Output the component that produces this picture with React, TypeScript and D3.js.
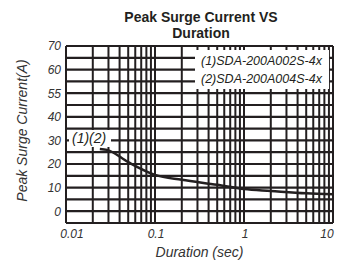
import React, { useRef, useEffect } from 'react';
import * as d3 from 'd3';

// curve (both parts share one curve)
const durations = [0.024, 0.029, 0.05, 0.1, 0.2, 0.5, 1, 2, 5, 10];
const currents = [26.4, 26.0, 20.8, 15.4, 13.3, 11.2, 9.4, 8.6, 7.6, 7.2];

const yTickValues = [0, 10, 20, 30, 40, 50, 60, 70];
const yTickLabels = ['0', '10', '20', '30', '40', '55', '60', '70'];
const xTickValues = [0.01, 0.1, 1, 10];
const xTickLabels = ['0.01', '0.1', '1', '10'];
const legendLabels = ['(1)SDA-200A002S-4x', '(2)SDA-200A004S-4x'];

const FONT = '"Liberation Sans", Arial, sans-serif';
const INK = '#231f20';

export default function App() {
    const ref = useRef<SVGSVGElement>(null);
    const width = 349;
    const height = 264;
    const margin = { left: 66, right: 16, top: 46, bottom: 41 };

    useEffect(() => {
        if (!ref.current) return;
        const svg = d3.select(ref.current);
        svg.selectAll('*').remove();

        const x = d3.scaleLog().domain([0.01, 10]).range([margin.left, width - margin.right]);
        const y = d3.scaleLinear().domain([-5, 70]).range([height - margin.bottom, margin.top]);

        const g = svg.append('g');

        // horizontal grid every 5
        const hLines = d3.range(-5, 71, 5);
        g.selectAll('.hgrid')
            .data(hLines)
            .join('line')
            .attr('x1', x(0.01)).attr('x2', x(10))
            .attr('y1', d => y(d)).attr('y2', d => y(d))
            .attr('stroke', INK)
            .attr('stroke-width', 2.2);

        // vertical grid at 1..9 per decade
        const vLines: number[] = [];
        [0.01, 0.1, 1].forEach(dec => d3.range(1, 10).forEach(k => vLines.push(k * dec)));
        vLines.push(10);
        g.selectAll('.vgrid')
            .data(vLines)
            .join('line')
            .attr('x1', d => x(d)).attr('x2', d => x(d))
            .attr('y1', y(-5)).attr('y2', y(70))
            .attr('stroke', INK)
            .attr('stroke-width', 2);

        // legend box
        g.append('rect')
            .attr('x', 195).attr('y', 50)
            .attr('width', 134).attr('height', 39)
            .attr('fill', 'white');
        g.selectAll('.legend')
            .data(legendLabels)
            .join('text')
            .attr('x', 201)
            .attr('y', (d, i) => 65 + i * 18)
            .attr('font-family', FONT)
            .attr('font-style', 'italic')
            .attr('font-size', 12.5)
            .attr('fill', INK)
            .text(d => d);

        // curve
        const line = d3.line<number>()
            .x((d, i) => x(durations[i]))
            .y(d => y(d))
            .curve(d3.curveMonotoneX);
        g.append('path')
            .datum(currents)
            .attr('d', line)
            .attr('fill', 'none')
            .attr('stroke', INK)
            .attr('stroke-width', 2.5);

        // annotation
        g.append('rect')
            .attr('x', 69).attr('y', 130)
            .attr('width', 42).attr('height', 17)
            .attr('fill', 'white');
        g.append('text')
            .attr('x', 72).attr('y', 143)
            .attr('font-family', FONT)
            .attr('font-style', 'italic')
            .attr('font-size', 14)
            .attr('fill', INK)
            .text('(1)(2)');

        // y tick labels
        g.selectAll('.ytick')
            .data(yTickValues)
            .join('text')
            .attr('x', 61)
            .attr('y', d => y(d))
            .attr('dy', '0.36em')
            .attr('text-anchor', 'end')
            .attr('font-family', FONT)
            .attr('font-style', 'italic')
            .attr('font-size', 12)
            .attr('fill', '#333')
            .text((d, i) => yTickLabels[i]);

        // x tick labels
        g.selectAll('.xtick')
            .data(xTickValues)
            .join('text')
            .attr('x', (d, i) => x(d) + (i === 0 ? 6 : i === xTickValues.length - 1 ? -6 : 1))
            .attr('y', 238)
            .attr('text-anchor', 'middle')
            .attr('font-family', FONT)
            .attr('font-style', 'italic')
            .attr('font-size', 12)
            .attr('fill', '#333')
            .text((d, i) => xTickLabels[i]);

        // axis titles
        g.append('text')
            .attr('x', (x(0.01) + x(10)) / 2)
            .attr('y', 257)
            .attr('text-anchor', 'middle')
            .attr('font-family', FONT)
            .attr('font-style', 'italic')
            .attr('font-size', 14)
            .attr('fill', '#333')
            .text('Duration (sec)');
        g.append('text')
            .attr('transform', `translate(27, ${(y(-5) + y(70)) / 2 - 4}) rotate(-90)`)
            .attr('text-anchor', 'middle')
            .attr('font-family', FONT)
            .attr('font-style', 'italic')
            .attr('font-size', 14)
            .attr('fill', '#333')
            .text('Peak Surge Current(A)');

        // title
        const title = g.append('text')
            .attr('text-anchor', 'middle')
            .attr('font-family', FONT)
            .attr('font-weight', 'bold')
            .attr('font-size', 14)
            .attr('fill', INK);
        title.append('tspan').attr('x', 201).attr('y', 22).text('Peak Surge Current VS');
        title.append('tspan').attr('x', 201).attr('y', 38).text('Duration');
    }, []);

    return (
        <svg ref={ref} width={width} height={height}
            style={{ position: 'absolute', left: 0, top: 0, background: 'white' }} />
    );
}
